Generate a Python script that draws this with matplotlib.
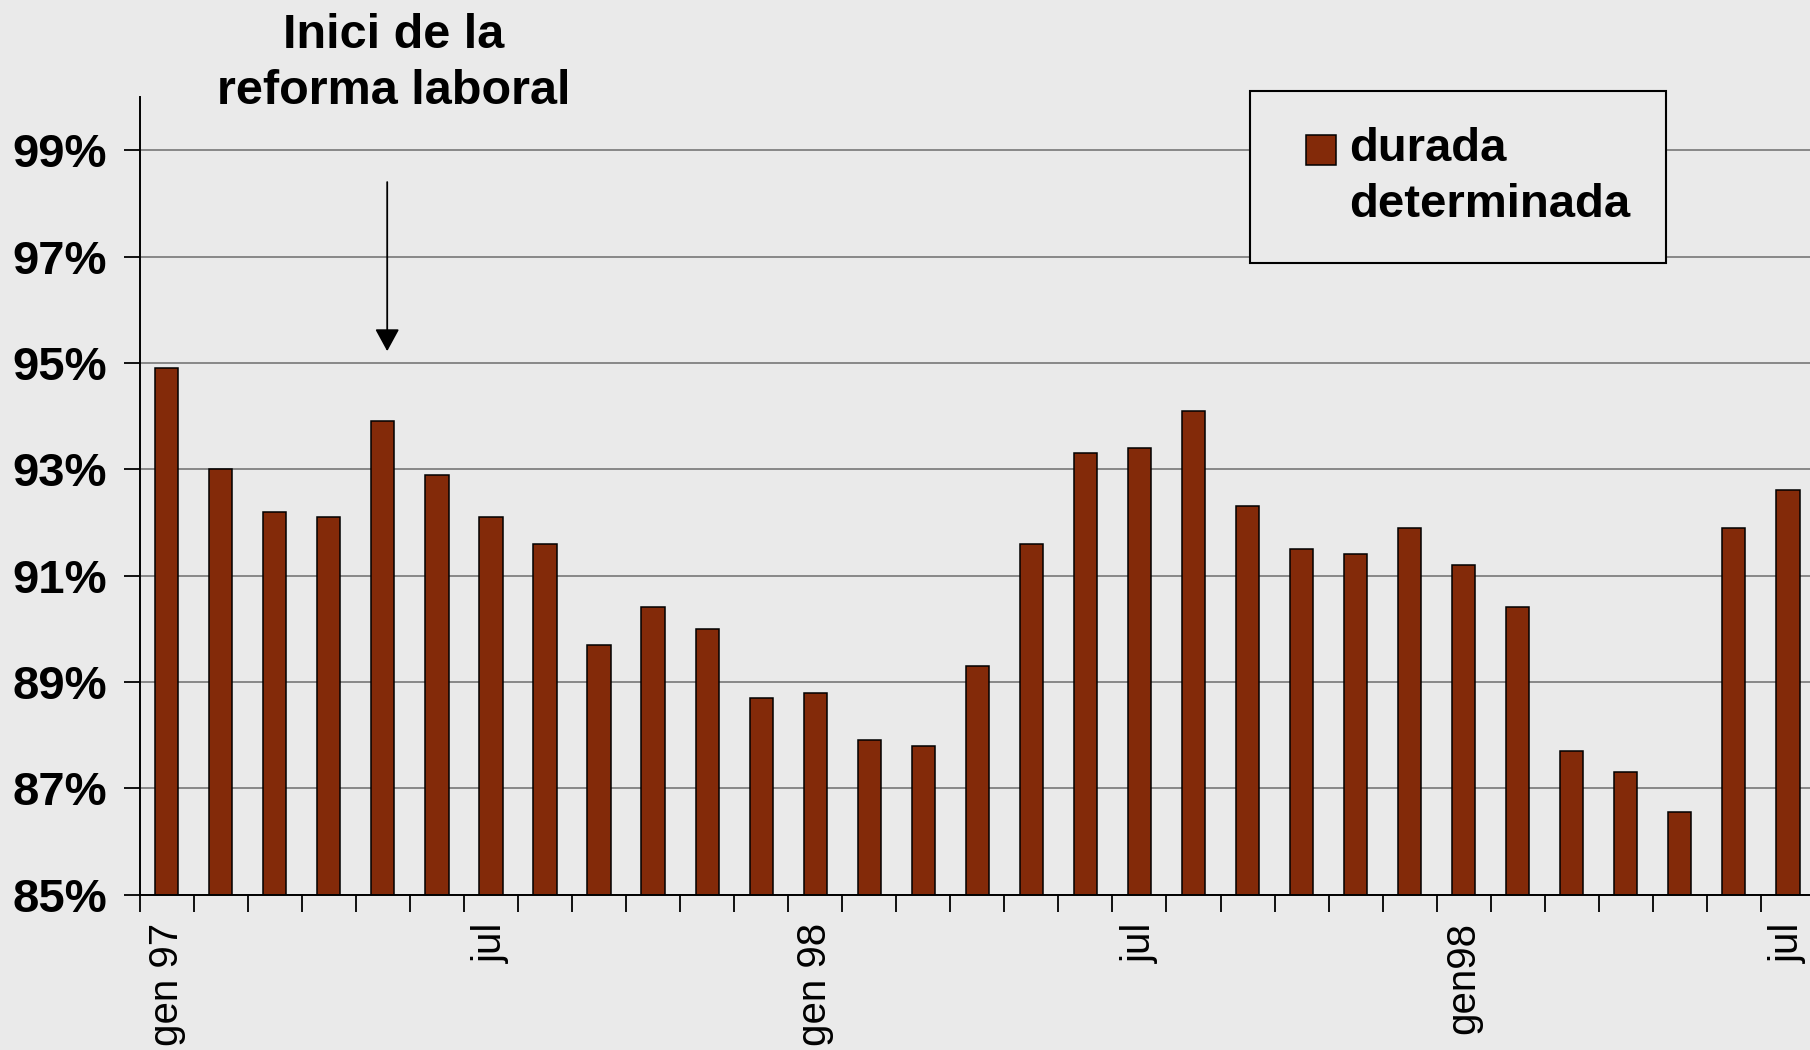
import matplotlib
matplotlib.use("Agg")
import matplotlib.pyplot as plt
import numpy as np
from matplotlib.container import BarContainer
from matplotlib.legend_handler import HandlerPatch, update_from_first_child
from matplotlib.patches import Rectangle

# share of new contracts with fixed term (durada determinada), monthly
values = [94.9, 93.0, 92.2, 92.1, 93.9, 92.9, 92.1, 91.6,
          89.7, 90.4, 90.0, 88.7, 88.8, 87.9, 87.8, 89.3,
          91.6, 93.3, 93.4, 94.1, 92.3, 91.5, 91.4, 91.9,
          91.2, 90.4, 87.7, 87.3, 86.55, 91.9, 92.6]
label_pos = [0, 6, 12, 18, 24, 30]
label_txt = ['gen 97', 'jul', 'gen 98', 'jul', 'gen98', 'jul']
yticks = [85, 87, 89, 91, 93, 95, 97, 99]
series_name = 'durada\ndeterminada'
note = 'Inici de la\nreforma laboral'
reform_idx = 4

bg = '#EAEAEA'
bar_col = '#832A09'

plt.rcParams['font.family'] = ['Liberation Sans', 'DejaVu Sans']

fig = plt.figure(figsize=(18.1, 10.5), dpi=100, facecolor=bg)
ax = fig.add_axes([139.7/1810, 1 - 894.6/1050, 31*54.04/1810, 797.6/1050])
ax.set_facecolor(bg)

x = np.arange(len(values))
ax.bar(x, values, width=0.43, bottom=0, color=bar_col, edgecolor='black',
       linewidth=1.1, label=series_name)

ax.set_xlim(-0.5, len(values) - 0.5)
ax.set_ylim(85, 100)

# y axis
ax.set_yticks(yticks)
ax.set_yticklabels([f'{v}%' for v in yticks], fontsize=34, fontweight='bold')
ax.tick_params(axis='y', direction='out', length=11.5, width=1.3, pad=12)
ax.grid(axis='y', color='#808080', linewidth=1.3)
ax.set_axisbelow(True)

# x axis: ticks between months, labels at some months
ax.set_xticks(np.arange(-0.5, len(values) + 0.5, 1.0))
ax.set_xticklabels([])
ax.tick_params(axis='x', which='major', direction='out', length=12, width=1.3)
ax.set_xticks(label_pos, minor=True)
ax.set_xticklabels(label_txt, minor=True, rotation=90, fontsize=29)
ax.tick_params(axis='x', which='minor', length=0, pad=20)

for s in ['top', 'right']:
    ax.spines[s].set_visible(False)
for s in ['left', 'bottom']:
    ax.spines[s].set_linewidth(1.4)
    ax.spines[s].set_zorder(3)

# annotation
ax.annotate('', xy=(reform_idx + 0.08, 95.22), xytext=(reform_idx + 0.08, 98.4),
            arrowprops=dict(arrowstyle='-|>,head_length=0.55,head_width=0.3',
                            mutation_scale=25, color='black', lw=1.3,
                            shrinkA=0, shrinkB=0))
ax.text(reform_idx + 0.2, 99.87, note, ha='center', va='baseline',
        multialignment='center', fontsize=35, fontweight='bold',
        linespacing=1.3, clip_on=False)


def square_handle(legend, orig_handle, xdescent, ydescent, width, height, fontsize):
    side = 0.64 * fontsize
    cy = -ydescent + height / 2 + 0.59 * fontsize
    return Rectangle((width - xdescent - side, cy - side / 2), side, side)


leg = ax.legend(loc='upper left', bbox_to_anchor=(1250/1810, 1 - 91/1050),
                bbox_transform=fig.transFigure, borderaxespad=0,
                prop=dict(size=34, weight='bold'), frameon=True, fancybox=False,
                facecolor=bg, edgecolor='black', framealpha=1,
                borderpad=0.77, handlelength=1.05, handletextpad=0.275,
                handler_map={BarContainer: HandlerPatch(
                    patch_func=square_handle, update_func=update_from_first_child)})
leg.get_frame().set_linewidth(1.5)
for t in leg.get_texts():
    t.set_linespacing(1.34)

fig.savefig('out.png', dpi=100, facecolor=bg)
